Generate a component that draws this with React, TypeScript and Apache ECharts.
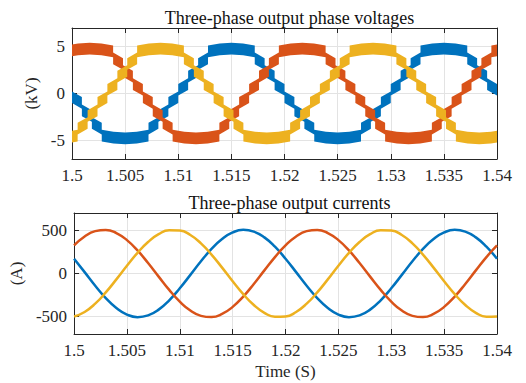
import React, { useEffect, useRef } from "react";
import * as echarts from "echarts";

// ---------- data ----------
const xTicks = { min: 1.5, max: 1.54, step: 0.005 };
const voltTicks = [-5, 0, 5];
const currTicks = [-500, 0, 500];

// Phase voltages (kV): centre line of the switching band, [time, value]
const voltA: [number, number][] = [
  [1.5, -0.4], [1.50093, -1.0],
  [1.50093, -1.8], [1.50187, -2.4],
  [1.50187, -3.15], [1.5028, -3.75],
  [1.5028, -4.5], [1.5039, -4.72], [1.505, -4.8], [1.5061, -4.72], [1.5072, -4.5],
  [1.5072, -3.75], [1.50813, -3.15],
  [1.50813, -2.4], [1.50907, -1.8],
  [1.50907, -1.0], [1.51, -0.4],
  [1.51, 0.4], [1.51093, 1.0],
  [1.51093, 1.8], [1.51187, 2.4],
  [1.51187, 3.15], [1.5128, 3.75],
  [1.5128, 4.5], [1.5139, 4.72], [1.515, 4.8], [1.5161, 4.72], [1.5172, 4.5],
  [1.5172, 3.75], [1.51813, 3.15],
  [1.51813, 2.4], [1.51907, 1.8],
  [1.51907, 1.0], [1.52, 0.4],
  [1.52, -0.4], [1.52093, -1.0],
  [1.52093, -1.8], [1.52187, -2.4],
  [1.52187, -3.15], [1.5228, -3.75],
  [1.5228, -4.5], [1.5239, -4.72], [1.525, -4.8], [1.5261, -4.72], [1.5272, -4.5],
  [1.5272, -3.75], [1.52813, -3.15],
  [1.52813, -2.4], [1.52907, -1.8],
  [1.52907, -1.0], [1.53, -0.4],
  [1.53, 0.4], [1.53093, 1.0],
  [1.53093, 1.8], [1.53187, 2.4],
  [1.53187, 3.15], [1.5328, 3.75],
  [1.5328, 4.5], [1.5339, 4.72], [1.535, 4.8], [1.5361, 4.72], [1.5372, 4.5],
  [1.5372, 3.75], [1.53813, 3.15],
  [1.53813, 2.4], [1.53907, 1.8],
  [1.53907, 1.0], [1.54, 0.4],
];

const voltB: [number, number][] = [
  [1.5, 4.61], [1.50057, 4.72], [1.50167, 4.8], [1.50277, 4.72], [1.50387, 4.5],
  [1.50387, 3.75], [1.5048, 3.15],
  [1.5048, 2.4], [1.50573, 1.8],
  [1.50573, 1.0], [1.50667, 0.4],
  [1.50667, -0.4], [1.5076, -1.0],
  [1.5076, -1.8], [1.50853, -2.4],
  [1.50853, -3.15], [1.50947, -3.75],
  [1.50947, -4.5], [1.51057, -4.72], [1.51167, -4.8], [1.51277, -4.72], [1.51387, -4.5],
  [1.51387, -3.75], [1.5148, -3.15],
  [1.5148, -2.4], [1.51573, -1.8],
  [1.51573, -1.0], [1.51667, -0.4],
  [1.51667, 0.4], [1.5176, 1.0],
  [1.5176, 1.8], [1.51853, 2.4],
  [1.51853, 3.15], [1.51947, 3.75],
  [1.51947, 4.5], [1.52057, 4.72], [1.52167, 4.8], [1.52277, 4.72], [1.52387, 4.5],
  [1.52387, 3.75], [1.5248, 3.15],
  [1.5248, 2.4], [1.52573, 1.8],
  [1.52573, 1.0], [1.52667, 0.4],
  [1.52667, -0.4], [1.5276, -1.0],
  [1.5276, -1.8], [1.52853, -2.4],
  [1.52853, -3.15], [1.52947, -3.75],
  [1.52947, -4.5], [1.53057, -4.72], [1.53167, -4.8], [1.53277, -4.72], [1.53387, -4.5],
  [1.53387, -3.75], [1.5348, -3.15],
  [1.5348, -2.4], [1.53573, -1.8],
  [1.53573, -1.0], [1.53667, -0.4],
  [1.53667, 0.4], [1.5376, 1.0],
  [1.5376, 1.8], [1.53853, 2.4],
  [1.53853, 3.15], [1.53947, 3.75],
  [1.53947, 4.5], [1.54, 4.61],
];

const voltC: [number, number][] = [
  [1.5, -4.61], [1.50053, -4.5],
  [1.50053, -3.75], [1.50147, -3.15],
  [1.50147, -2.4], [1.5024, -1.8],
  [1.5024, -1.0], [1.50333, -0.4],
  [1.50333, 0.4], [1.50427, 1.0],
  [1.50427, 1.8], [1.5052, 2.4],
  [1.5052, 3.15], [1.50613, 3.75],
  [1.50613, 4.5], [1.50723, 4.72], [1.50833, 4.8], [1.50943, 4.72], [1.51053, 4.5],
  [1.51053, 3.75], [1.51147, 3.15],
  [1.51147, 2.4], [1.5124, 1.8],
  [1.5124, 1.0], [1.51333, 0.4],
  [1.51333, -0.4], [1.51427, -1.0],
  [1.51427, -1.8], [1.5152, -2.4],
  [1.5152, -3.15], [1.51613, -3.75],
  [1.51613, -4.5], [1.51723, -4.72], [1.51833, -4.8], [1.51943, -4.72], [1.52053, -4.5],
  [1.52053, -3.75], [1.52147, -3.15],
  [1.52147, -2.4], [1.5224, -1.8],
  [1.5224, -1.0], [1.52333, -0.4],
  [1.52333, 0.4], [1.52427, 1.0],
  [1.52427, 1.8], [1.5252, 2.4],
  [1.5252, 3.15], [1.52613, 3.75],
  [1.52613, 4.5], [1.52723, 4.72], [1.52833, 4.8], [1.52943, 4.72], [1.53053, 4.5],
  [1.53053, 3.75], [1.53147, 3.15],
  [1.53147, 2.4], [1.5324, 1.8],
  [1.5324, 1.0], [1.53333, 0.4],
  [1.53333, -0.4], [1.53427, -1.0],
  [1.53427, -1.8], [1.5352, -2.4],
  [1.5352, -3.15], [1.53613, -3.75],
  [1.53613, -4.5], [1.53723, -4.72], [1.53833, -4.8], [1.53943, -4.72], [1.54, -4.61],
];

// Currents (A), sampled every 1 ms
const tCur = [
  1.5, 1.501, 1.502, 1.503, 1.504, 1.505, 1.506, 1.507, 1.508, 1.509,
  1.51, 1.511, 1.512, 1.513, 1.514, 1.515, 1.516, 1.517, 1.518, 1.519,
  1.52, 1.521, 1.522, 1.523, 1.524, 1.525, 1.526, 1.527, 1.528, 1.529,
  1.53, 1.531, 1.532, 1.533, 1.534, 1.535, 1.536, 1.537, 1.538, 1.539, 1.54,
];
const curA = [
  171, 16, -141, -284, -399, -475, -505, -485, -418, -310,
  -171, -16, 141, 284, 399, 475, 505, 485, 418, 310,
  171, 16, -141, -284, -399, -475, -505, -485, -418, -310,
  -171, -16, 141, 284, 399, 475, 505, 485, 418, 310, 171,
];
const curB = [
  325, 429, 490, 504, 468, 386, 267, 121, -36, -190,
  -325, -429, -490, -504, -468, -386, -267, -121, 36, 190,
  325, 429, 490, 504, 468, 386, 267, 121, -36, -190,
  -325, -429, -490, -504, -468, -386, -267, -121, 36, 190, 325,
];
const curC = [
  -497, -445, -349, -219, -68, 90, 239, 365, 455, 500,
  497, 445, 349, 219, 68, -90, -239, -365, -455, -500,
  -497, -445, -349, -219, -68, 90, 239, 365, 455, 500,
  497, 445, 349, 219, 68, -90, -239, -365, -455, -500, -497,
];

// ---------- styles ----------
const COLORS = ["#0072BD", "#D95319", "#EDB120"];
const FONT = "'Times New Roman', 'Liberation Serif', serif";
const TXT = "#262626";
const GRIDC = "#e3e3e3";
const BAND_HALF = 0.62;

function bandSeries(pts: [number, number][], color: string) {
  return {
    type: "custom",
    xAxisIndex: 0,
    yAxisIndex: 0,
    clip: true,
    silent: true,
    data: [[pts[0][0], pts[0][1]]],
    renderItem: (_p: any, api: any) => {
      const upper = pts.map(([t, v]) => api.coord([t, v + BAND_HALF]));
      const lower = pts.map(([t, v]) => api.coord([t, v - BAND_HALF])).reverse();
      return {
        type: "polygon",
        shape: { points: upper.concat(lower) },
        style: { fill: color, stroke: null },
      };
    },
  };
}

function pairs(t: number[], v: number[]) {
  return t.map((x, i) => [x, v[i]]);
}

export default function App() {
  const ref = useRef<HTMLDivElement>(null);
  useEffect(() => {
    if (!ref.current) return;
    const chart = echarts.init(ref.current, undefined, { renderer: "svg" });

    const xBase = (grid: number, pos: "bottom" | "top", main: boolean, name?: string) => ({
      type: "value",
      gridIndex: grid,
      position: pos,
      min: xTicks.min,
      max: xTicks.max,
      interval: xTicks.step,
      name: name,
      nameLocation: "middle",
      nameGap: 29,
      nameTextStyle: { fontFamily: FONT, fontSize: 17, color: TXT },
      axisLine: { show: true, onZero: false, lineStyle: { color: TXT, width: 1 } },
      axisTick: { show: true, inside: true, length: 5, lineStyle: { color: TXT } },
      axisLabel: { show: main, fontFamily: FONT, fontSize: 17, color: TXT, margin: 8 },
      splitLine: { show: main, lineStyle: { color: GRIDC, width: 1 } },
    });
    const yBase = (grid: number, pos: "left" | "right", main: boolean, lim: number, ticks: number[], name?: string, gap?: number) => ({
      type: "value",
      gridIndex: grid,
      position: pos,
      min: -lim,
      max: lim,
      name: name,
      nameLocation: "middle",
      nameGap: gap,
      nameTextStyle: { fontFamily: FONT, fontSize: 17, color: TXT },
      axisLine: { show: true, onZero: false, lineStyle: { color: TXT, width: 1 } },
      axisTick: { show: true, inside: true, length: 5, customValues: ticks, lineStyle: { color: TXT } },
      axisLabel: { show: main, customValues: ticks, fontFamily: FONT, fontSize: 17, color: TXT, margin: 7 },
      splitLine: { show: main, lineStyle: { color: GRIDC, width: 1 } },
    });

    chart.setOption({
      animation: false,
      backgroundColor: "#ffffff",
      title: [
        {
          text: "Three-phase output phase voltages",
          left: 284.5,
          top: 4,
          textAlign: "center",
          textStyle: { fontFamily: FONT, fontSize: 18, fontWeight: "normal", color: "#111" },
        },
        {
          text: "Three-phase output currents",
          left: 284.5,
          top: 189,
          textAlign: "center",
          textStyle: { fontFamily: FONT, fontSize: 18, fontWeight: "normal", color: "#111" },
        },
      ],
      grid: [
        { left: 72, top: 28, width: 425, height: 131 },
        { left: 72, top: 213, width: 425, height: 121 },
      ],
      xAxis: [
        xBase(0, "bottom", true),
        xBase(0, "top", false),
        xBase(1, "bottom", true, "Time (S)"),
        xBase(1, "top", false),
      ],
      yAxis: [
        yBase(0, "left", true, 7, voltTicks, "(kV)", 26),
        yBase(0, "right", false, 7, voltTicks),
        yBase(1, "left", true, 700, currTicks, "(A)", 33),
        yBase(1, "right", false, 700, currTicks),
      ],
      series: [
        bandSeries(voltA, COLORS[0]),
        bandSeries(voltB, COLORS[1]),
        bandSeries(voltC, COLORS[2]),
        ...[curA, curB, curC].map((c, i) => ({
          type: "line",
          xAxisIndex: 2,
          yAxisIndex: 2,
          data: pairs(tCur, c),
          showSymbol: false,
          smooth: true,
          lineStyle: { color: COLORS[i], width: 2.5 },
          silent: true,
        })),
      ],
    });
    return () => chart.dispose();
  }, []);
  return (
    <div
      ref={ref}
      style={{ position: "fixed", left: 0, top: 0, width: 526, height: 383, background: "#fff" }}
    />
  );
}
